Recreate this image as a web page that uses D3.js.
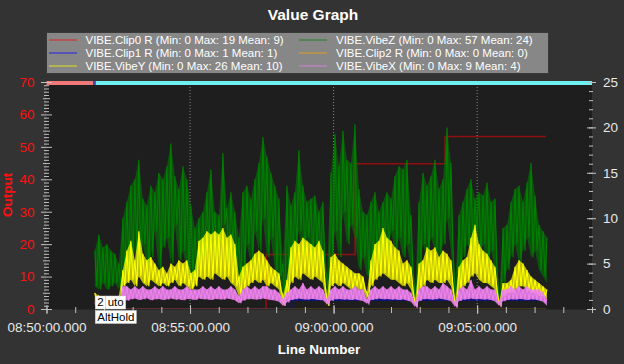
<!DOCTYPE html>
<html><head><meta charset="utf-8">
<script src="https://cdn.jsdelivr.net/npm/d3@7"></script>
<style>
body{margin:0;background:#333333;}
svg{display:block;font-family:"Liberation Sans",Arial,sans-serif;}
</style>
</head><body>
<svg id="chart" width="624" height="364"></svg>
<script>
// ---------------- data ----------------
const chartTitle = "Value Graph";
const xAxisTitle = "Line Number";
const yAxisTitle = "Output";
const xDomain = ["08:50:00", "09:09:00"];
const xMajorTicks = ["08:50:00", "08:55:00", "09:00:00", "09:05:00"];
const leftTicks = [0, 10, 20, 30, 40, 50, 60, 70];
const rightTicks = [0, 5, 10, 15, 20, 25];

const legendLabels = [
  "VIBE.Clip0 R (Min: 0 Max: 19 Mean: 9)",
  "VIBE.VibeZ (Min: 0 Max: 57 Mean: 24)",
  "VIBE.Clip1 R (Min: 0 Max: 1 Mean: 1)",
  "VIBE.Clip2 R (Min: 0 Max: 0 Mean: 0)",
  "VIBE.VibeY (Min: 0 Max: 26 Mean: 10)",
  "VIBE.VibeX (Min: 0 Max: 9 Mean: 4)"
];
const legendKeys = ["clip0", "vibeZ", "clip1", "clip2", "vibeY", "vibeX"];

// vibration samples (left axis), evenly spaced between these times
const vibeStart = "08:51:41";
const vibeEnd = "09:07:26";
const vibeZHi = [18,23,19,20,18,17,14,
  28,33,38,40,46,34,32,38,36,42,40,44,51,41,37,44,40,32,25,28,30,
  36,43,30,29,48,31,36,30,22,36,38,34,40,45,53,47,42,38,34,
  14,
  38,32,36,49,38,33,34,35,30,33,
  10,
  42,54,44,55,46,45,57,37,30,29,33,36,30,33,36,34,41,44,43,46,29,
  4,
  33,42,38,41,46,37,40,56,45,
  6,
  29,33,37,40,34,36,35,39,33,34,
  3,
  25,26,33,37,38,33,39,45,35,26,24,22];
const vibeZLo = [7,6,8,6,7,8,6,
  10,14,12,18,11,20,13,16,24,12,19,22,14,26,15,18,12,10,9,14,16,
  18,22,15,20,26,14,19,12,8,10,20,14,24,18,28,16,22,12,10,
  3,
  8,14,18,24,16,22,14,19,15,12,
  2,
  14,24,16,30,20,26,22,12,16,10,12,18,14,20,16,24,18,22,16,20,12,
  1,
  12,20,15,22,18,16,20,28,18,
  2,
  10,16,20,18,24,16,20,14,18,12,
  1,
  8,12,16,20,14,18,22,16,18,12,10,8];
const vibeYHi = [5,4,3,3,3,3,4,
  12,18,21,15,24,17,15,16,14,12,13,11,14,13,15,14,15,11,12,21,22,
  24,23,24,23,25,22,23,20,10,13,14,15,17,18,17,15,13,12,11,
  4,
  9,19,21,20,22,21,20,19,21,18,
  3,
  16,17,15,14,13,12,11,11,10,5,15,20,21,25,22,21,19,18,14,15,13,
  2,
  14,15,19,18,19,16,18,17,15,
  2,
  13,15,16,22,26,20,18,17,15,13,
  2,
  8,8,9,13,15,14,12,10,9,8,7,6];
const vibeYLo = [2,2,1,2,2,1,2,
  7,8,9,7,10,8,7,9,8,7,8,7,8,9,7,8,7,6,7,10,9,
  10,9,11,10,9,10,8,7,4,6,7,8,9,8,9,7,8,7,6,
  1,
  4,8,10,9,11,10,9,10,9,8,
  1,
  7,8,7,8,7,6,7,6,6,3,7,9,10,11,10,9,9,8,7,8,6,
  1,
  6,7,9,8,9,8,8,9,7,
  1,
  6,7,8,10,11,9,8,8,7,6,
  1,
  4,5,5,6,7,7,6,5,5,4,4,3];
const vibeXHi = [2,2,2,2,2,2,2,
  7,7,6,7,6,7,6,6,7,6,7,6,6,7,6,6,7,6,6,6,7,
  6,7,6,7,6,6,7,6,4,6,7,6,7,6,7,7,6,6,5,
  3,
  5,6,7,6,8,6,7,6,7,6,
  3,
  6,7,6,7,6,6,7,6,6,3,6,7,6,7,6,7,6,7,6,6,5,
  2,
  6,7,7,6,7,6,8,7,6,
  2,
  6,7,6,9,6,7,6,7,6,6,
  2,
  6,6,7,6,7,6,7,6,6,6,5,3];
const vibeXLo = [1,1,1,1,1,1,1,
  3,2.6,3,3.2,2.8,3,3.3,2.7,3,3.1,2.8,3,3.2,2.9,3,2.7,3.1,3,2.8,3.2,3,
  3,2.8,3.1,3,2.9,3.2,3,2.7,1.8,2.6,3,3.1,2.9,3,3.2,3,2.8,2.6,2.2,
  1,
  2,2.8,3,3.2,3,2.9,3.1,3,2.8,2.7,
  1.5,
  2.6,3,3.1,2.9,3,2.8,3,2.7,2.5,1.6,2.8,3,3.2,3,3.1,2.9,3,2.8,3,2.6,2.2,
  0.6,
  2.5,3,3.1,2.9,3,3.2,3,2.8,2.4,
  0.6,
  2.5,2.9,3,3.2,3,3.1,2.9,3,2.8,2.3,
  1,
  2.4,2.8,3,2.9,3.1,3,2.8,3,2.9,2.6,2.2,1];

// clip counters (right axis), step series
const clip0Times = ["08:51:41", "08:57:39", "09:00:45", "09:03:53", "09:07:24"];
const clip0Values = [0, 6, 16, 19, 19];
const clip1Times = ["08:51:41", "08:58:32", "09:07:24"];
const clip1Values = [0, 1, 1];
const clip2Times = ["08:51:41", "09:07:24"];
const clip2Values = [0, 0];

// flight mode bar
const modeTimes = ["08:50:00", "08:51:38", "08:51:43"];
const modeEnd = "09:09:00";
const modeLabelRow1 = ["2", "uto"];
const modeLabelRow2 = ["AltHold"];

// ---------------- drawing ----------------
const colors = {clip0: "#ff0000", clip1: "#0000ff", clip2: "#ffa500",
                vibeZ: "#008000", vibeY: "#ffff00", vibeX: "#ee82ee"};
const modeColors = ["#f07878", "#4848a8", "#6ff0f0"];

const parse = d3.timeParse("%H:%M:%S");
const fmt = d3.timeFormat("%H:%M:%S.%L");
const svg = d3.select("#chart");
const W = 624, H = 364;
const L = 46.5, R = 592, T = 81, B = 309;

const x = d3.scaleTime().domain(xDomain.map(parse)).range([L, R]);
const yL = d3.scaleLinear().domain([0, 70]).range([B, 82]);
const yR = d3.scaleLinear().domain([0, 25]).range([B, 82]);

svg.append("defs").append("clipPath").attr("id", "plotClip")
  .append("rect").attr("x", L).attr("y", T).attr("width", R - L).attr("height", B - 0.6 - T);

svg.append("rect").attr("width", W).attr("height", H).attr("fill", "#333333");
svg.append("rect").attr("x", L).attr("y", T).attr("width", R - L).attr("height", B - T + 0.5)
  .attr("fill", "#1e1e1e");

// title
svg.append("text").attr("x", 313).attr("y", 20).attr("text-anchor", "middle")
  .attr("fill", "#ffffff").attr("font-weight", "bold").attr("font-size", 15.5).text(chartTitle);

// legend
const lg = svg.append("g");
lg.append("rect").attr("x", 46.5).attr("y", 32.5).attr("width", 502).attr("height", 41)
  .attr("fill", "#878787").attr("stroke", "#3a3a3a");
legendLabels.forEach((lab, i) => {
  const col = i % 2, row = Math.floor(i / 2);
  const cy = 40 + row * 13;
  const lx = col === 0 ? 49 : 299;
  const tx = col === 0 ? 85.5 : 336;
  lg.append("line").attr("x1", lx).attr("x2", lx + 28).attr("y1", cy).attr("y2", cy)
    .attr("stroke", colors[legendKeys[i]]).attr("stroke-opacity", 0.5).attr("stroke-width", 1.5);
  lg.append("text").attr("x", tx).attr("y", cy + 4).attr("fill", "#ffffff")
    .attr("font-size", 11.5).text(lab);
});

// gridlines (dotted, at major x ticks)
svg.append("g").selectAll("line").data(xMajorTicks.slice(1).map(parse)).join("line")
  .attr("x1", d => x(d)).attr("x2", d => x(d)).attr("y1", T).attr("y2", B)
  .attr("stroke", "#8a8a8a").attr("stroke-dasharray", "1,2").attr("stroke-width", 1);

const plot = svg.append("g").attr("clip-path", "url(#plotClip)");

// clip step lines (right axis)
const stepLine = d3.line().x(d => x(d[0])).y(d => yR(d[1])).curve(d3.curveStepAfter);
function stepPts(times, vals) { return times.map((t, i) => [parse(t), vals[i]]); }
[["clip0", clip0Times, clip0Values], ["clip1", clip1Times, clip1Values], ["clip2", clip2Times, clip2Values]]
  .forEach(([k, t, v]) => {
    plot.append("path").attr("d", stepLine(stepPts(t, v))).attr("fill", "none")
      .attr("stroke", colors[k]).attr("stroke-opacity", 0.5).attr("stroke-width", 1.6);
  });

// vibration series (left axis): dense band between troughs and peaks + the raw zigzag trace
const t0 = +parse(vibeStart), t1 = +parse(vibeEnd);
function sampleTime(i, n) { return new Date(t0 + i * (t1 - t0) / (n - 1)); }
const vLine = d3.line().x(d => x(d[0])).y(d => yL(d[1]));
const vArea = d3.area().x(d => x(d[0])).y0(d => yL(d[1])).y1(d => yL(d[2]));
function zig(hi, lo) {
  const n = hi.length, pts = [];
  for (let i = 0; i < n; i++) {
    pts.push([sampleTime(i, n), hi[i]]);
    if (i < n - 1) pts.push([sampleTime(i + 0.5, n), lo[i]]);
  }
  return pts;
}
function band(hi, lo) { return hi.map((h, i) => [sampleTime(i, hi.length), lo[i], h]); }
const bandOpacity = {vibeZ: 0.55, vibeY: 0.7, vibeX: 0.85};
[["vibeZ", vibeZHi, vibeZLo], ["vibeY", vibeYHi, vibeYLo], ["vibeX", vibeXHi, vibeXLo]]
  .forEach(([k, hi, lo]) => {
    plot.append("path").attr("d", vArea(band(hi, lo))).attr("fill", colors[k])
      .attr("fill-opacity", bandOpacity[k]);
    plot.append("path").attr("d", vLine(zig(hi, lo))).attr("fill", "none")
      .attr("stroke", colors[k]).attr("stroke-opacity", 1).attr("stroke-width", 1.1);
  });

// mode bar
const modeDates = modeTimes.map(parse).concat([parse(modeEnd)]);
svg.append("g").selectAll("rect").data(modeTimes).join("rect")
  .attr("x", (d, i) => x(modeDates[i])).attr("y", T)
  .attr("width", (d, i) => x(modeDates[i + 1]) - x(modeDates[i])).attr("height", 4)
  .attr("fill", (d, i) => modeColors[i]);

// axes
function styleAxis(g) {
  g.select(".domain").remove();
  g.selectAll(".tick line").attr("stroke", "#c0c0c0");
}
const minorVals = d3.range(0, 71).filter(v => v % 5 !== 0);
const medVals = d3.range(0, 71).filter(v => v % 5 === 0 && v % 10 !== 0);
svg.append("g").attr("transform", "translate(49,0)")
  .call(d3.axisLeft(yL).tickValues(minorVals).tickFormat("").tickSize(5)).call(styleAxis);
svg.append("g").attr("transform", "translate(50,0)")
  .call(d3.axisLeft(yL).tickValues(medVals).tickFormat("").tickSize(7)).call(styleAxis);
svg.append("g").attr("transform", "translate(52,0)")
  .call(d3.axisLeft(yL).tickValues(leftTicks).tickFormat("").tickSize(11)).call(styleAxis);
const la = svg.append("g").attr("transform", `translate(${L},0)`)
  .call(d3.axisLeft(yL).tickValues(leftTicks).tickSize(0).tickPadding(12));
la.select(".domain").remove();
la.selectAll("text").attr("fill", "#ff1010").attr("font-size", 13.5)
  .attr("font-family", "'Liberation Sans',Arial,sans-serif");

svg.append("g").attr("transform", "translate(589,0)")
  .call(d3.axisRight(yR).tickValues(d3.range(0, 26)).tickFormat("").tickSize(4)).call(styleAxis);
svg.append("g").attr("transform", "translate(587,0)")
  .call(d3.axisRight(yR).tickValues(rightTicks).tickFormat("").tickSize(9)).call(styleAxis);
const ra = svg.append("g").attr("transform", `translate(${R},0)`)
  .call(d3.axisRight(yR).tickValues(rightTicks).tickSize(0).tickPadding(11));
ra.select(".domain").remove();
ra.selectAll("text").attr("fill", "#e8e8e8").attr("font-size", 13.5)
  .attr("font-family", "'Liberation Sans',Arial,sans-serif");

svg.append("g").attr("transform", "translate(0,307)")
  .call(d3.axisBottom(x).ticks(d3.timeMinute.every(1)).tickFormat("").tickSize(6)).call(styleAxis);
svg.append("g").attr("transform", "translate(0,305)")
  .call(d3.axisBottom(x).tickValues(xMajorTicks.map(parse)).tickFormat("").tickSize(9)).call(styleAxis);
const ba = svg.append("g").attr("transform", `translate(0,${B})`)
  .call(d3.axisBottom(x).tickValues(xMajorTicks.map(parse)).tickFormat(fmt).tickSize(0).tickPadding(13));
ba.select(".domain").remove();
ba.selectAll("text").attr("fill", "#e8e8e8").attr("font-size", 13.5)
  .attr("font-family", "'Liberation Sans',Arial,sans-serif");

// axis titles
svg.append("text").attr("x", 319).attr("y", 354).attr("text-anchor", "middle")
  .attr("fill", "#ffffff").attr("font-weight", "bold").attr("font-size", 13.5).text(xAxisTitle);
svg.append("text").attr("transform", "translate(12,195) rotate(-90)").attr("text-anchor", "middle")
  .attr("fill", "#ff1010").attr("font-weight", "bold").attr("font-size", 13.5).text(yAxisTitle);

// mode labels
const mx = x(parse(modeTimes[2])) - 0.5;
function labelRow(texts, y0) {
  let cx = mx;
  texts.forEach(t => {
    const g = svg.append("g");
    const tx = g.append("text").attr("x", cx + 2).attr("y", y0 + 10).attr("fill", "#000")
      .attr("font-size", 11.5).text(t);
    const w = tx.node().getComputedTextLength() + 4;
    g.insert("rect", "text").attr("x", cx).attr("y", y0).attr("width", w).attr("height", 13)
      .attr("fill", "#ffffff").attr("stroke", "#d0d0d0").attr("stroke-width", 0.5);
    cx += w;
  });
}
labelRow(modeLabelRow1, 296);
labelRow(modeLabelRow2, 310.5);
</script>
</body></html>
